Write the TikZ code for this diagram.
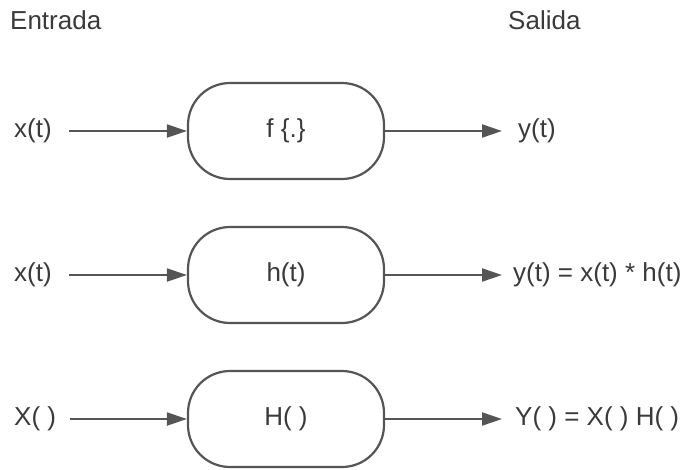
\documentclass[tikz,border=0pt]{standalone}
\usepackage{fontspec}
\setmainfont{Liberation Sans}
\usetikzlibrary{arrows.meta}
\definecolor{txt}{HTML}{3A3A3A}
\definecolor{ln}{HTML}{555555}
\begin{document}
\begin{tikzpicture}[x=1pt,y=-1pt,
  lbl/.style={inner sep=0pt,anchor=west,text=txt,font=\fontsize{26}{31}\selectfont},
  blk/.style={draw=ln,line width=2.2pt,rounded corners=42pt,minimum width=196pt,minimum height=96pt,inner sep=0pt,text=txt,font=\fontsize{26}{31}\selectfont,fill=white},
  arr/.style={draw=ln,line width=2pt,-{Triangle[length=20pt,width=13pt]}}]
\useasboundingbox (0,0) rectangle (686,469);
\node[lbl] (ent) at (10,20) {Entrada};
\node[lbl] (sal) at (508,20) {Salida};
% row 1
\node[blk] (b1) at (286,131) {f \{.\}};
\node[lbl] (x1) at (14,131) {x(t)};
\node[lbl] (y1) at (518,131) {y(t)};
\draw[arr,shorten <=17pt] (x1) -- (b1);
\draw[arr,shorten >=16pt] (b1) -- (y1);
% row 2
\node[blk] (b2) at (286,275) {h(t)};
\node[lbl] (x2) at (14,275) {x(t)};
\node[lbl] (y2) at (513,275) {y(t) = x(t) * h(t)};
\draw[arr,shorten <=17pt] (x2) -- (b2);
\draw[arr,shorten >=11pt] (b2) -- (y2);
% row 3
\node[blk] (b3) at (286,419) {H( )};
\node[lbl] (x3) at (14,419) {X( )};
\node[lbl] (y3) at (515,419) {Y( ) = X( ) H( )};
\draw[arr,shorten <=14pt] (x3) -- (b3);
\draw[arr,shorten >=13pt] (b3) -- (y3);
\end{tikzpicture}
\end{document}
